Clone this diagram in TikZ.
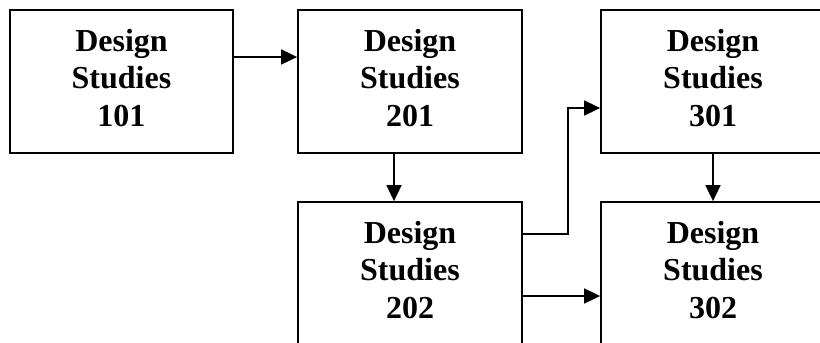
\documentclass[tikz,border=0pt]{standalone}
\usepackage{fontspec}
\setmainfont{Liberation Serif}
\usetikzlibrary{arrows.meta}
\begin{document}
\begin{tikzpicture}[x=1pt,y=-1pt,
  course/.style={draw, line width=1.8pt, minimum width=224pt, minimum height=143pt,
    inner sep=0pt, align=center, text depth=8pt,
    font=\fontsize{32pt}{37.5pt}\selectfont\bfseries},
  link/.style={line width=1.8pt, -{Triangle[length=16pt,width=15pt]}}]
\useasboundingbox (0,0) rectangle (820,343);
% course boxes
\node[course, minimum width=223pt] (b101) at (121.5,81.5) {Design\\Studies\\101};
\node[course] (b201) at (410,81.5) {Design\\Studies\\201};
\node[course] (b301) at (713,81.5) {Design\\Studies\\301};
\node[course] (b202) at (410,273.5) {Design\\Studies\\202};
\node[course] (b302) at (713,273.5) {Design\\Studies\\302};
% prerequisite links
\draw[link] ([yshift=24.5pt]b101.east) -- ([yshift=24.5pt]b201.west);
\draw[link] ([xshift=-16pt]b201.south) -- ([xshift=-16pt]b202.north);
\draw[link] (b301.south) -- (b302.north);
\draw[link] ([yshift=39.5pt]b202.east) -| ([yshift=-26.5pt,xshift=-32pt]b301.west) -- ([yshift=-26.5pt]b301.west);
\draw[link] ([yshift=-22.5pt]b202.east) -- ([yshift=-22.5pt]b302.west);
\end{tikzpicture}
\end{document}
